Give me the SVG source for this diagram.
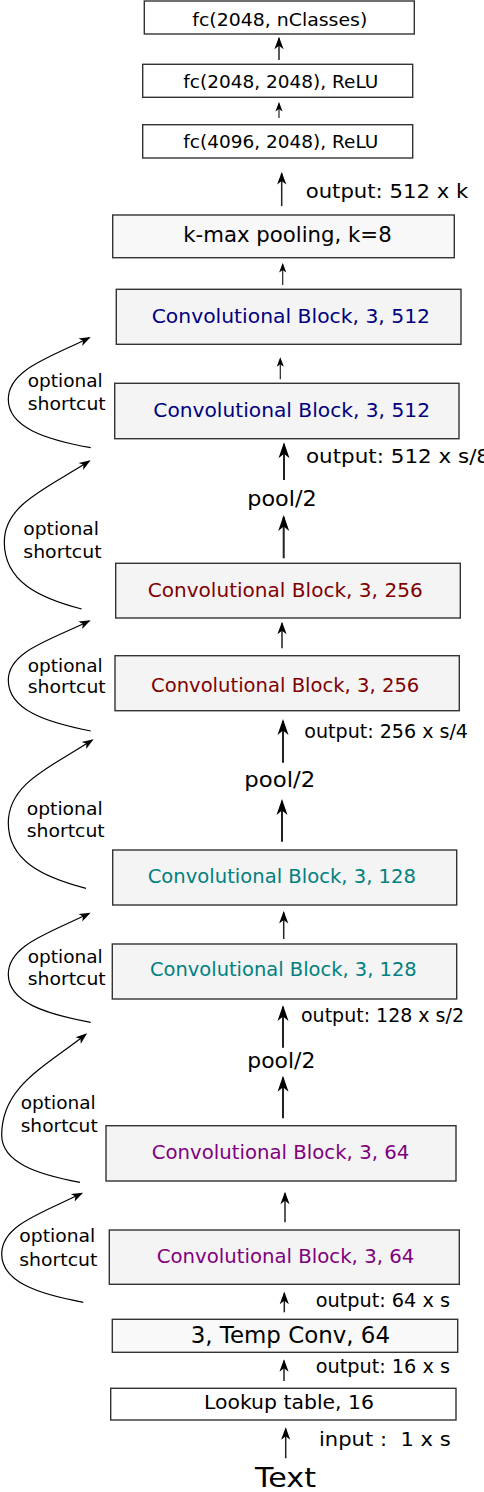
<svg xmlns="http://www.w3.org/2000/svg" width="484" height="1492" viewBox="0 0 484 1492">
<style>
  text { font-family: "DejaVu Sans", "Liberation Sans", sans-serif; fill: #000; }
  .box { stroke: #333; stroke-width: 1.4; }
  .fc { fill: #ffffff; }
  .conv { fill: #f4f4f4; }
  .light { fill: #f8f8f8; }
  .c512 { fill: #000080; }
  .c256 { fill: #800000; }
  .c128 { fill: #008080; }
  .c64 { fill: #800080; }
  .v { stroke: #222; fill: none; }
  .sm { stroke-width: 1.2; marker-end: url(#ahSm); }
  .md { stroke-width: 1.5; marker-end: url(#ahMd); }
  .bg { stroke-width: 2; marker-end: url(#ahBg); }
  .sc { stroke: #000; stroke-width: 1.2; fill: none; marker-end: url(#ahSc); }
  .lbl { font-size: 19px; }
  .opt { font-size: 18.5px; }
  .pool { font-size: 22px; }
</style>
<defs>
  <marker id="ahSm" markerUnits="userSpaceOnUse" orient="auto" refX="0" refY="0" markerWidth="12" markerHeight="10" viewBox="-10 -5 12 10" overflow="visible">
    <path d="M1.5,0 L-8,-3.6 L-5.5,0 L-8,3.6 Z" fill="#000"/>
  </marker>
  <marker id="ahMd" markerUnits="userSpaceOnUse" orient="auto" refX="0" refY="0" markerWidth="15" markerHeight="12" viewBox="-13 -6 15 12" overflow="visible">
    <path d="M1.5,0 L-11,-4.6 L-7.5,0 L-11,4.6 Z" fill="#000"/>
  </marker>
  <marker id="ahBg" markerUnits="userSpaceOnUse" orient="auto" refX="0" refY="0" markerWidth="18" markerHeight="13" viewBox="-16 -6.5 18 13" overflow="visible">
    <path d="M2,0 L-14,-5.5 L-9.5,0 L-14,5.5 Z" fill="#000"/>
  </marker>
  <marker id="ahSc" markerUnits="userSpaceOnUse" orient="auto" refX="0" refY="0" markerWidth="14" markerHeight="10" viewBox="-12 -5 14 10" overflow="visible">
    <path d="M1.5,0 L-10,-4.2 L-7,0 L-10,4.2 Z" fill="#000"/>
  </marker>
</defs>

<g id="connectors">
  <line class="v md" x1="279" y1="60" x2="279" y2="38.2"/>
  <line class="v sm" x1="279" y1="118" x2="279" y2="103.5"/>
  <line class="v md" x1="281.7" y1="206" x2="281.7" y2="173.5"/>
  <line class="v sm" x1="282.7" y1="285" x2="282.7" y2="264.5"/>
  <line class="v sm" x1="280.3" y1="379.3" x2="280.3" y2="358.8"/>
  <line class="v bg" x1="284" y1="480" x2="284" y2="444.3"/>
  <line class="v bg" x1="283.7" y1="558.3" x2="283.7" y2="517"/>
  <line class="v md" x1="282" y1="648.3" x2="282" y2="623.2"/>
  <line class="v bg" x1="283" y1="762.7" x2="283" y2="721"/>
  <line class="v bg" x1="282" y1="841.7" x2="282" y2="801"/>
  <line class="v md" x1="283.7" y1="939" x2="283.7" y2="912.5"/>
  <line class="v bg" x1="283" y1="1047.7" x2="283" y2="1007"/>
  <line class="v bg" x1="283" y1="1118.3" x2="283" y2="1077.7"/>
  <line class="v md" x1="285" y1="1222.3" x2="285" y2="1193.2"/>
  <line class="v md" x1="284.3" y1="1312.3" x2="284.3" y2="1293.2"/>
  <line class="v md" x1="284" y1="1381" x2="284" y2="1360.8"/>
  <line class="v md" x1="285.7" y1="1458.3" x2="285.7" y2="1428.8"/>

  <path class="sc" d="M90.7,447.7 C45.4,439.5 8.3,427.4 8.3,399.3 C8.3,369.7 48.8,358 89.3,337.7"/>
  <path class="sc" d="M81.7,609 C39.1,597.9 4.3,581.7 4.3,542 C4.3,504.2 46.8,488.4 89.3,461"/>
  <path class="sc" d="M90.7,731 C45.4,722.3 8.3,709.6 8.3,680 C8.3,651.7 48.8,640.5 89.3,621"/>
  <path class="sc" d="M86,888.3 C43.3,877.2 8.3,860.9 8.3,823 C8.3,783.2 50.3,767.4 92.3,740"/>
  <path class="sc" d="M90.7,1022.3 C45.4,1014.1 8.3,1002.1 8.3,974.3 C8.3,945 48.8,933.4 89.3,913.3"/>
  <path class="sc" d="M80,1182.3 C36.9,1174.3 1.7,1162.4 1.7,1135 C1.7,1086.7 43.9,1067.5 86,1034.3"/>
  <path class="sc" d="M83.3,1302.3 C38.4,1294.1 1.7,1282 1.7,1254 C1.7,1224.9 41.7,1213.3 81.7,1193.3"/>
</g>

<g id="labels">
  <text class="lbl" x="305.7" y="197.7" textLength="162.6" lengthAdjust="spacingAndGlyphs" style="font-size:20px">output: 512 x k</text>
  <text class="lbl" x="306" y="462.7" textLength="184" lengthAdjust="spacingAndGlyphs" style="font-size:20px">output: 512 x s/8</text>
  <text class="lbl" x="304.3" y="738.3" textLength="163.7" lengthAdjust="spacingAndGlyphs">output: 256 x s/4</text>
  <text class="lbl" x="301" y="1021.7" textLength="163" lengthAdjust="spacingAndGlyphs">output: 128 x s/2</text>
  <text class="lbl" x="315.7" y="1306.7" textLength="134.3" lengthAdjust="spacingAndGlyphs">output: 64 x s</text>
  <text class="lbl" x="315.7" y="1372.7" textLength="134.3" lengthAdjust="spacingAndGlyphs">output: 16 x s</text>
  <text class="lbl" x="319" y="1446" textLength="131.7" lengthAdjust="spacingAndGlyphs" xml:space="preserve">input :  1 x s</text>
  <text x="255" y="1486.5" textLength="61" lengthAdjust="spacingAndGlyphs" style="font-size:27px">Text</text>

  <text class="pool" x="247.3" y="506" textLength="69.4" lengthAdjust="spacingAndGlyphs">pool/2</text>
  <text class="pool" x="244.3" y="787.3" textLength="71" lengthAdjust="spacingAndGlyphs">pool/2</text>
  <text class="pool" x="247.3" y="1068.3" textLength="68" lengthAdjust="spacingAndGlyphs">pool/2</text>

  <text class="opt" x="27.7" y="386.7" textLength="75" lengthAdjust="spacingAndGlyphs">optional</text>
  <text class="opt" x="27.7" y="410" textLength="78" lengthAdjust="spacingAndGlyphs">shortcut</text>
  <text class="opt" x="23.3" y="535" textLength="75.7" lengthAdjust="spacingAndGlyphs">optional</text>
  <text class="opt" x="23.3" y="558.3" textLength="78.3" lengthAdjust="spacingAndGlyphs">shortcut</text>
  <text class="opt" x="27.7" y="671.7" textLength="75" lengthAdjust="spacingAndGlyphs">optional</text>
  <text class="opt" x="27.7" y="692.7" textLength="78" lengthAdjust="spacingAndGlyphs">shortcut</text>
  <text class="opt" x="26.7" y="815" textLength="76" lengthAdjust="spacingAndGlyphs">optional</text>
  <text class="opt" x="26.7" y="837.3" textLength="78" lengthAdjust="spacingAndGlyphs">shortcut</text>
  <text class="opt" x="27.7" y="962.7" textLength="75" lengthAdjust="spacingAndGlyphs">optional</text>
  <text class="opt" x="27.7" y="985" textLength="78" lengthAdjust="spacingAndGlyphs">shortcut</text>
  <text class="opt" x="20.7" y="1109" textLength="75" lengthAdjust="spacingAndGlyphs">optional</text>
  <text class="opt" x="20.7" y="1131.7" textLength="77" lengthAdjust="spacingAndGlyphs">shortcut</text>
  <text class="opt" x="19.3" y="1241.7" textLength="76" lengthAdjust="spacingAndGlyphs">optional</text>
  <text class="opt" x="19.3" y="1265.7" textLength="78" lengthAdjust="spacingAndGlyphs">shortcut</text>
</g>

<g id="fc-nclasses">
  <rect class="box fc" x="144.3" y="1" width="270" height="33"/>
  <text x="192.3" y="25.5" textLength="175" lengthAdjust="spacingAndGlyphs" style="font-size:18.5px">fc(2048, nClasses)</text>
</g>
<g id="fc-2048">
  <rect class="box fc" x="142.7" y="64.3" width="270" height="33"/>
  <text x="183.3" y="87.7" textLength="195" lengthAdjust="spacingAndGlyphs" style="font-size:18.5px">fc(2048, 2048), ReLU</text>
</g>
<g id="fc-4096">
  <rect class="box fc" x="142.7" y="124.7" width="270" height="33.3"/>
  <text x="183.3" y="147.7" textLength="195" lengthAdjust="spacingAndGlyphs" style="font-size:18.5px">fc(4096, 2048), ReLU</text>
</g>
<g id="kmax">
  <rect class="box light" x="112.7" y="215" width="341.6" height="42.7"/>
  <text x="183.3" y="241.7" textLength="208.4" lengthAdjust="spacingAndGlyphs" style="font-size:21px">k-max pooling, k=8</text>
</g>
<g id="conv512b">
  <rect class="box conv" x="116.3" y="289.3" width="344.7" height="55"/>
  <text class="c512" x="151.7" y="322.7" textLength="278.3" lengthAdjust="spacingAndGlyphs" style="font-size:20px">Convolutional Block, 3, 512</text>
</g>
<g id="conv512a">
  <rect class="box conv" x="114.7" y="383.3" width="344.3" height="55.4"/>
  <text class="c512" x="153.3" y="416.7" textLength="276.7" lengthAdjust="spacingAndGlyphs" style="font-size:20px">Convolutional Block, 3, 512</text>
</g>
<g id="conv256b">
  <rect class="box conv" x="115.7" y="563.3" width="344.6" height="54.7"/>
  <text class="c256" x="147.7" y="596.7" textLength="275" lengthAdjust="spacingAndGlyphs" style="font-size:20px">Convolutional Block, 3, 256</text>
</g>
<g id="conv256a">
  <rect class="box conv" x="115" y="655.7" width="344.3" height="55"/>
  <text class="c256" x="151" y="691.7" textLength="268.3" lengthAdjust="spacingAndGlyphs" style="font-size:19.5px">Convolutional Block, 3, 256</text>
</g>
<g id="conv128b">
  <rect class="box conv" x="112.7" y="850" width="344" height="55"/>
  <text class="c128" x="147.7" y="883.3" textLength="268.3" lengthAdjust="spacingAndGlyphs" style="font-size:19.5px">Convolutional Block, 3, 128</text>
</g>
<g id="conv128a">
  <rect class="box conv" x="112.3" y="944" width="344.4" height="55"/>
  <text class="c128" x="150" y="976" textLength="266.7" lengthAdjust="spacingAndGlyphs" style="font-size:19.5px">Convolutional Block, 3, 128</text>
</g>
<g id="conv64b">
  <rect class="box conv" x="106" y="1125.7" width="350" height="55.3"/>
  <text class="c64" x="151.7" y="1159.3" textLength="257.6" lengthAdjust="spacingAndGlyphs" style="font-size:19.5px">Convolutional Block, 3, 64</text>
</g>
<g id="conv64a">
  <rect class="box conv" x="109.3" y="1230" width="350" height="54.3"/>
  <text class="c64" x="156.7" y="1262.7" textLength="257.6" lengthAdjust="spacingAndGlyphs" style="font-size:19.5px">Convolutional Block, 3, 64</text>
</g>
<g id="tempconv">
  <rect class="box" fill="#f9f9f9" x="112.3" y="1319.3" width="345.4" height="33"/>
  <text x="190.7" y="1342.7" textLength="199.3" lengthAdjust="spacingAndGlyphs" style="font-size:22.5px">3, Temp Conv, 64</text>
</g>
<g id="lookup">
  <rect class="box fc" x="110.7" y="1388.3" width="345.3" height="31.7"/>
  <text x="204" y="1409" textLength="170" lengthAdjust="spacingAndGlyphs" style="font-size:20px">Lookup table, 16</text>
</g>
</svg>
